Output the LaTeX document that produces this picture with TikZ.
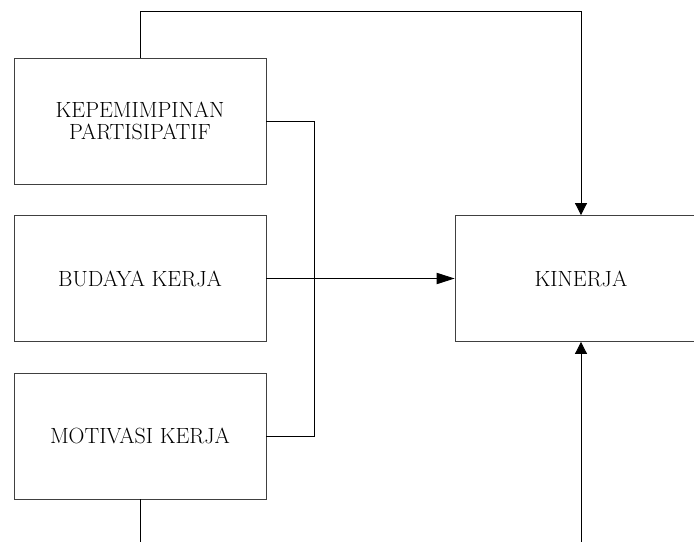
\documentclass[tikz,border=0pt]{standalone}
\usetikzlibrary{arrows.meta}
\tikzset{
  box/.style={draw=black!75, line width=0.65pt, minimum width=189pt, minimum height=94.5pt,
    inner sep=0pt, align=center, font=\fontsize{16.5}{16.5}\selectfont},
  link/.style={black, line width=0.65pt},
  tip/.style={-{Triangle[length=9pt,width=9pt]}},
  longtip/.style={-{Triangle[length=13.5pt,width=8.5pt]}}
}
\begin{document}
\begin{tikzpicture}[x=0.75pt, y=-0.75pt]
    \useasboundingbox (0,0) rectangle (694,542);

    \node [box] at (140, 121) (kep) {KEPEMIMPINAN\\PARTISIPATIF};
    \node [box] at (140, 278.5) (bud) {BUDAYA KERJA};
    \node [box] at (140, 436) (mot) {MOTIVASI KERJA};
    \node [box] at (581, 278.5) (kin) {KINERJA};

    \coordinate (top) at (0, 11);
    \coordinate (join) at (314, 0);
    \coordinate (botL) at (140, 542);
    \coordinate (botR) at (581, 542);

    \draw [link, tip] (kep.north) |- (top -| kin.north) -- (kin.north);
    \draw [link] (kep.east) -| (join |- mot.east) -- (mot.east);
    \draw [link, longtip] (bud.east) -- (kin.west);
    \draw [link] (mot.south) -- (botL);
    \draw [link, tip] (botR) -- (kin.south);
\end{tikzpicture}
\end{document}
